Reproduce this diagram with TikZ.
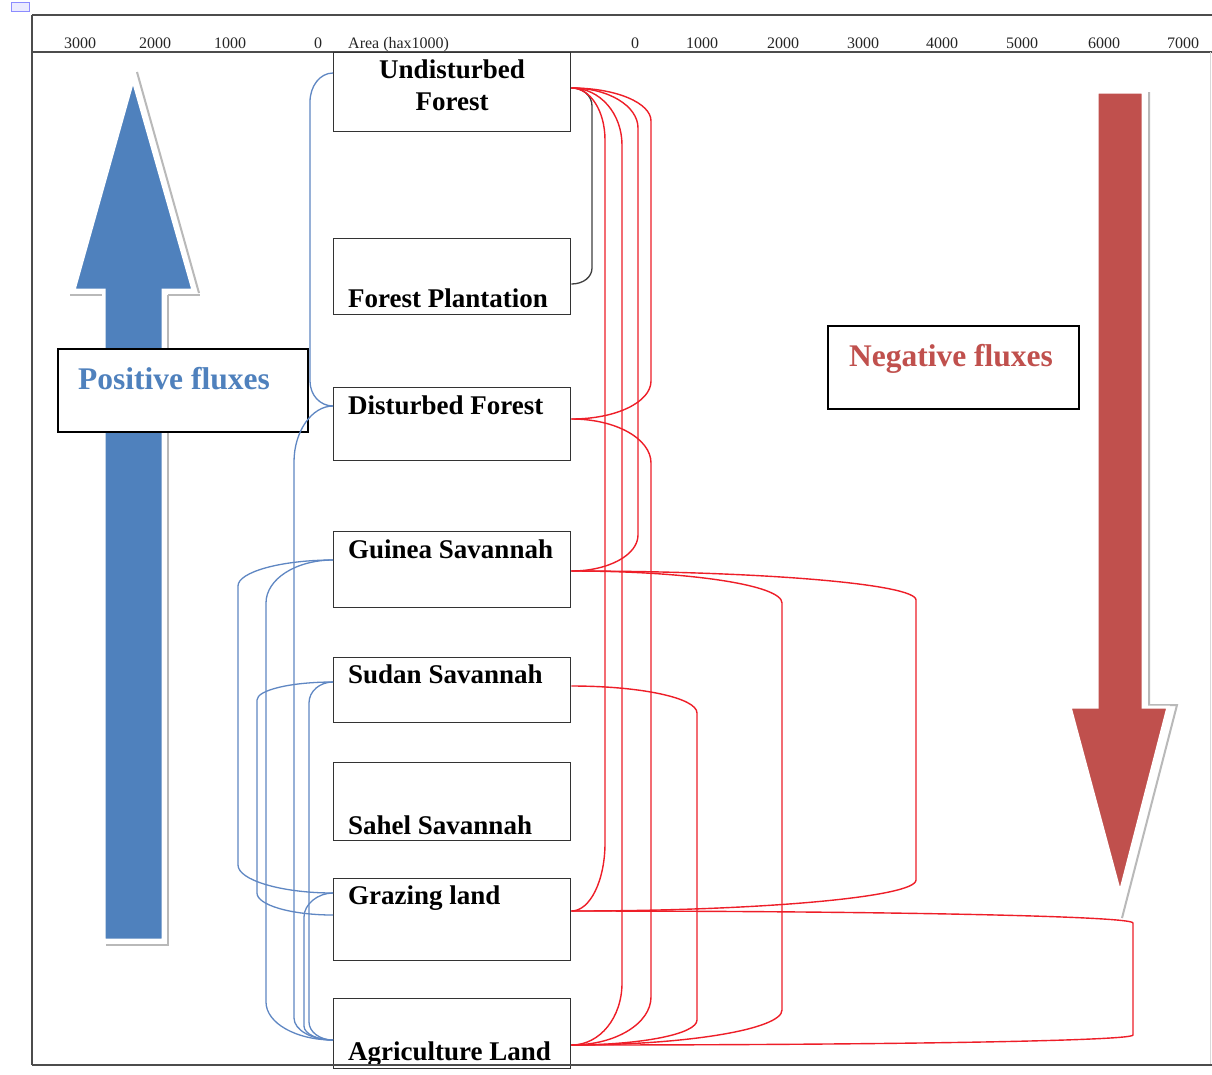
\documentclass[tikz,border=0pt]{standalone}
\usepackage{fontspec}
\setmainfont{Liberation Serif}
\definecolor{posblue}{RGB}{79,129,189}
\definecolor{negred}{RGB}{192,80,77}
\definecolor{linkblue}{RGB}{95,135,195}
\definecolor{linkred}{RGB}{238,30,40}
\begin{document}
\begin{tikzpicture}[x=1pt,y=1pt,
  box/.style={draw=black!80,line width=1.4pt,fill=white,rectangle,inner sep=0pt,minimum width=237pt,anchor=north west},
  fluxbox/.style={draw=black,line width=1.8pt,fill=white,rectangle,inner sep=0pt,anchor=north west},
  lbl/.style={font=\fontsize{27}{30}\selectfont\bfseries,inner sep=0pt},
  ax/.style={font=\fontsize{16}{18}\selectfont,inner sep=0pt,anchor=base,text=black!85},
  fluxtxt/.style={font=\fontsize{31.5}{34}\selectfont\bfseries,inner sep=0pt},
  bluec/.style={draw=linkblue,line width=1.3pt},
  redc/.style={draw=linkred,line width=1.4pt},
  blackc/.style={draw=black!75,line width=1.3pt},
  frame/.style={draw=black!70,line width=1.8pt},
  shade/.style={draw=gray!55,line width=2pt}
]
\useasboundingbox (0,0) rectangle (1212,-1074);
\fill[white] (0,0) rectangle (1212,-1074);

% small table handle icon
\node[draw=blue!45,fill=blue!8,line width=0.6pt,minimum width=18pt,minimum height=9pt,inner sep=0pt,anchor=north west] (icon) at (11,-2) {};

% frame
\draw[frame] (32,-15) -- (1212,-15);
\draw[frame] (32,-52) -- (1212,-52);
\draw[frame] (32,-15) -- (32,-1065);
\draw[draw=gray!30,line width=1pt] (1210,-52) -- (1210,-1065);

% axis labels
\node[ax] (a3l) at (80,-48) {3000};
\node[ax] (a2l) at (155,-48) {2000};
\node[ax] (a1l) at (230,-48) {1000};
\node[ax] (a0l) at (318,-48) {0};
\node[ax,anchor=base west] (area) at (348,-48) {Area (hax1000)};
\node[ax] (a0r) at (635,-48) {0};
\node[ax] (a1r) at (702,-48) {1000};
\node[ax] (a2r) at (783,-48) {2000};
\node[ax] (a3r) at (863,-48) {3000};
\node[ax] (a4r) at (942,-48) {4000};
\node[ax] (a5r) at (1022,-48) {5000};
\node[ax] (a6r) at (1104,-48) {6000};
\node[ax] (a7r) at (1183,-48) {7000};

% blue arrow (positive fluxes)
\draw[shade] (137,-72) -- (199,-293);
\draw[shade] (70,-295) -- (102,-295);
\draw[shade] (168,-295) -- (200,-295);
\draw[shade] (168,-295) -- (168,-945) -- (106,-945);
\draw[draw=white,line width=3pt,fill=posblue,line join=miter]
  (133,-80) -- (193,-290) -- (163,-290) -- (163,-940) -- (104,-940) -- (104,-290) -- (74,-290) -- cycle;

% red arrow (negative fluxes)
\draw[shade] (1149,-92) -- (1149,-705) -- (1177,-705) -- (1122,-918);
\draw[draw=white,line width=3pt,fill=negred,line join=miter]
  (1097,-92) -- (1143,-92) -- (1143,-707) -- (1168,-707) -- (1120,-893) -- (1070,-707) -- (1097,-707) -- cycle;

% flux label boxes
\node[fluxbox,minimum width=250pt,minimum height=83pt] (posbox) at (57,-348) {};
\node[fluxtxt,text=posblue,anchor=base west] (postxt) at (78,-389) {Positive fluxes};
\node[fluxbox,minimum width=251pt,minimum height=83pt] (negbox) at (827,-325) {};
\node[fluxtxt,text=negred,anchor=base] (negtxt) at (951,-366) {Negative fluxes};

% land-cover boxes
\node[box,minimum height=79pt] (uf) at (333,-52) {};
\node[box,minimum height=76pt] (fp) at (333,-238) {};
\node[box,minimum height=73pt] (df) at (333,-387) {};
\node[box,minimum height=76pt] (gs) at (333,-531) {};
\node[box,minimum height=65pt] (ss) at (333,-657) {};
\node[box,minimum height=78pt] (sh) at (333,-762) {};
\node[box,minimum height=82pt] (gl) at (333,-878) {};
\node[box,minimum height=70pt] (al) at (333,-998) {};

\node[lbl,anchor=base] (ufT1) at (452,-78) {Undisturbed};
\node[lbl,anchor=base] (ufT2) at (452,-110) {Forest};
\node[lbl,anchor=base west] (fpT) at (348,-307) {Forest Plantation};
\node[lbl,anchor=base west] (dfT) at (348,-414) {Disturbed Forest};
\node[lbl,anchor=base west] (gsT) at (348,-558) {Guinea Savannah};
\node[lbl,anchor=base west] (ssT) at (348,-683) {Sudan Savannah};
\node[lbl,anchor=base west] (shT) at (348,-834) {Sahel Savannah};
\node[lbl,anchor=base west] (glT) at (348,-904) {Grazing land};
\node[lbl,anchor=base west] (alT) at (348,-1060) {Agriculture Land};

% bottom frame line (over the last box)
\draw[frame] (32,-1065) -- (1212,-1065);

% attachment points
\coordinate (ufL) at ([yshift=-21pt]uf.north west);
\coordinate (dfL) at ([yshift=-19pt]df.north west);
\coordinate (gsL) at ([yshift=-29pt]gs.north west);
\coordinate (ssL) at ([yshift=-25pt]ss.north west);
\coordinate (glLa) at ([yshift=-15pt]gl.north west);
\coordinate (glLb) at ([yshift=-37pt]gl.north west);
\coordinate (alL) at ([yshift=-42pt]al.north west);

\coordinate (ufR) at ([yshift=-36pt]uf.north east);
\coordinate (fpR) at ([yshift=-46pt]fp.north east);
\coordinate (dfR) at ([yshift=-32pt]df.north east);
\coordinate (gsR) at ([yshift=-40pt]gs.north east);
\coordinate (ssR) at ([yshift=-29pt]ss.north east);
\coordinate (glR) at ([yshift=-33pt]gl.north east);
\coordinate (alR) at ([yshift=-47pt]al.north east);

% blue (positive) connectors
\draw[bluec] (ufL) .. controls +(-13,0) and +(0,16) .. (310,-102) -- (310,-381) .. controls +(0,-14) and +(-13,0) .. (dfL);
\draw[bluec] (dfL) .. controls +(-21,0) and +(0,31) .. (294,-462) -- (294,-1018) .. controls +(0,-12) and +(-21,0) .. (alL);
\draw[bluec] (gsL) .. controls +(-52,0) and +(0,14) .. (238,-586) -- (238,-865) .. controls +(0,-15) and +(-52,0) .. (glLa);
\draw[bluec] (gsL) .. controls +(-37,0) and +(0,24) .. (266,-603) -- (266,-1002) .. controls +(0,-21) and +(-37,0) .. (alL);
\draw[bluec] (ssL) .. controls +(-42,0) and +(0,10) .. (257,-700) -- (257,-893) .. controls +(0,-12) and +(-42,0) .. (glLb);
\draw[bluec] (ssL) .. controls +(-13,0) and +(0,12) .. (309,-703) -- (309,-1022) .. controls +(0,-10) and +(-13,0) .. (alL);
\draw[bluec] (glLa) .. controls +(-15,0) and +(0,13) .. (304,-917) -- (304,-1026) .. controls +(0,-8) and +(-15,0) .. (alL);

% black connector
\draw[blackc] (ufR) .. controls +(12,0) and +(0,10) .. (592,-106) -- (592,-268) .. controls +(0,-9) and +(12,0) .. (fpR);

% red (negative) connectors
\draw[redc] (ufR) .. controls +(45,0) and +(0,18) .. (651,-121) -- (651,-381) .. controls +(0,-21) and +(45,0) .. (dfR);
\draw[redc] (ufR) .. controls +(37,0) and +(0,22) .. (638,-128) -- (638,-535) .. controls +(0,-20) and +(37,0) .. (gsR);
\draw[redc] (ufR) .. controls +(19,0) and +(0,29) .. (605,-140) -- (605,-843) .. controls +(0,-37) and +(19,0) .. (glR);
\draw[redc] (ufR) .. controls +(29,0) and +(0,31) .. (622,-145) -- (622,-983) .. controls +(0,-34) and +(29,0) .. (alR);
\draw[redc] (dfR) .. controls +(45,0) and +(0,24) .. (651,-463) -- (651,-997) .. controls +(0,-26) and +(45,0) .. (alR);
\draw[redc] (gsR) .. controls +(117,0) and +(0,18) .. (782,-603) -- (782,-1010) .. controls +(0,-19) and +(117,0) .. (alR);
\draw[redc] (gsR) .. controls +(190,0) and +(0,16) .. (916,-600) -- (916,-880) .. controls +(0,-17) and +(190,0) .. (glR);
\draw[redc] (ssR) .. controls +(70,0) and +(0,15) .. (697,-713) -- (697,-1020) .. controls +(0,-14) and +(70,0) .. (alR);
\draw[redc] (glR) .. controls +(310,0) and +(0,7) .. (1133,-923) -- (1133,-1035) .. controls +(0,-6) and +(310,0) .. (alR);
\end{tikzpicture}
\end{document}
